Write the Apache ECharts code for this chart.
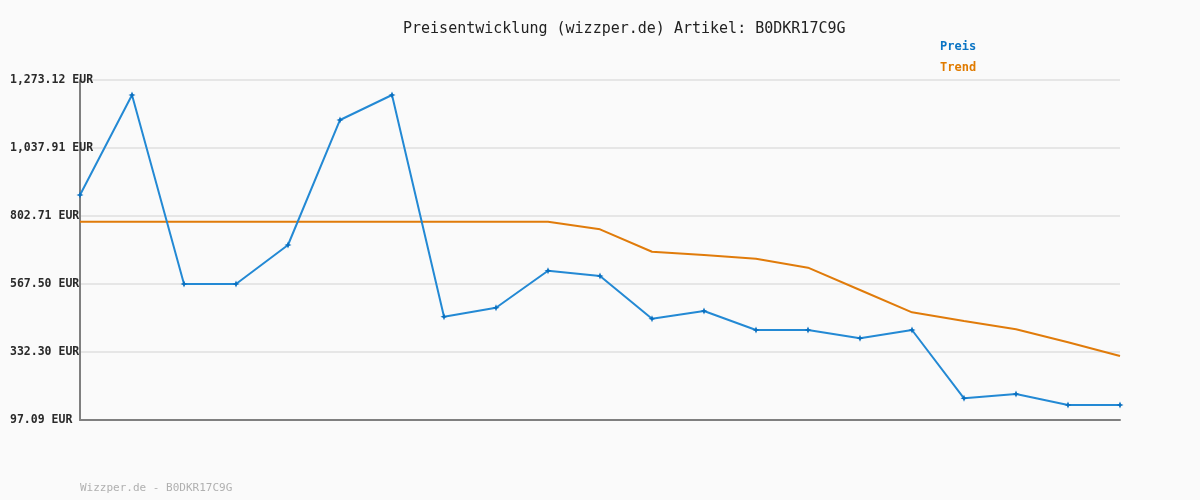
<!DOCTYPE html>
<html>
<head>
<meta charset="utf-8">
<script src="https://cdn.jsdelivr.net/npm/echarts@6/dist/echarts.min.js"></script>
<style>
  html, body { margin: 0; padding: 0; background: #fafafa; }
  #chart { width: 1200px; height: 500px; }
</style>
</head>
<body>
<div id="chart"></div>
<script>
// Daten
const days = Array.from({ length: 21 }, (_, i) => 'T' + (i + 1));
const preis = [875.4, 1221.2, 567.5, 567.5, 702.4, 1134.8, 1221.2, 454.4, 485.5, 613.5, 595.2,
  447.5, 474.1, 408.4, 408.4, 379.7, 408.4, 172.2, 187.0, 149.0, 149.0];
const trend = [783.0, 783.0, 783.0, 783.0, 783.0, 783.0, 783.0, 783.0, 783.0, 783.0, 756.7,
  679.2, 667.8, 655.0, 623.9, 546.8, 469.6, 439.5, 410.8, 365.9, 318.5];
const yMin = 97.09;
const yMax = 1273.12;
const yStep = (yMax - yMin) / 5;

const mono = 'DejaVu Sans Mono';

function eur(v) {
  let s = v.toFixed(2).split('.');
  s[0] = s[0].replace(/\B(?=(\d{3})+(?!\d))/g, ',');
  return s.join('.') + ' EUR';
}

let myChart = echarts.init(document.getElementById('chart'));
myChart.setOption({
  backgroundColor: '#fafafa',
  animation: false,
  title: [
    {
      text: 'Preisentwicklung (wizzper.de) Artikel: B0DKR17C9G',
      left: 398,
      top: 17,
      textStyle: { fontFamily: mono, fontSize: 15, fontWeight: 'normal', color: '#222' }
    },
    {
      text: 'Wizzper.de - B0DKR17C9G',
      left: 75,
      top: 478,
      textStyle: { fontFamily: mono, fontSize: 11, fontWeight: 'normal', color: '#b0b0b0' }
    }
  ],
  legend: {
    orient: 'vertical',
    left: 930,
    top: 35,
    itemWidth: 0,
    itemHeight: 14,
    itemGap: 7,
    icon: 'rect',
    data: [
      { name: 'Preis', textStyle: { color: '#0a74c4' } },
      { name: 'Trend', textStyle: { color: '#e07b00' } }
    ],
    textStyle: { fontFamily: mono, fontSize: 12, fontWeight: 'bold' }
  },
  grid: { left: 80, right: 80, top: 80, bottom: 80 },
  xAxis: {
    type: 'category',
    data: days,
    boundaryGap: false,
    axisLine: { lineStyle: { color: '#7f7f7f', width: 2 } },
    axisTick: { show: false },
    axisLabel: { show: false },
    splitLine: { show: false }
  },
  yAxis: {
    type: 'value',
    min: yMin,
    max: yMax,
    interval: yStep,
    axisLine: { show: true, lineStyle: { color: '#7f7f7f', width: 2 } },
    axisTick: { show: false },
    axisLabel: {
      align: 'left',
      margin: 70,
      fontFamily: mono,
      fontSize: 11.5,
      fontWeight: 'bold',
      color: '#2a2a2a',
      formatter: eur
    },
    splitLine: { lineStyle: { color: '#e6e6e6', width: 2 } }
  },
  series: [
    {
      name: 'Trend',
      type: 'line',
      data: trend,
      showSymbol: false,
      symbol: 'none',
      itemStyle: { color: '#e07b00' },
      lineStyle: { color: '#e07b0a', width: 2 },
      z: 2
    },
    {
      name: 'Preis',
      type: 'line',
      data: preis,
      symbol: 'path://M0,-1L0.3,-0.3L1,0L0.3,0.3L0,1L-0.3,0.3L-1,0L-0.3,-0.3Z',
      symbolSize: 7,
      itemStyle: { color: '#0a70c0' },
      lineStyle: { color: '#2389d4', width: 2 },
      z: 3
    }
  ]
});
</script>
</body>
</html>
